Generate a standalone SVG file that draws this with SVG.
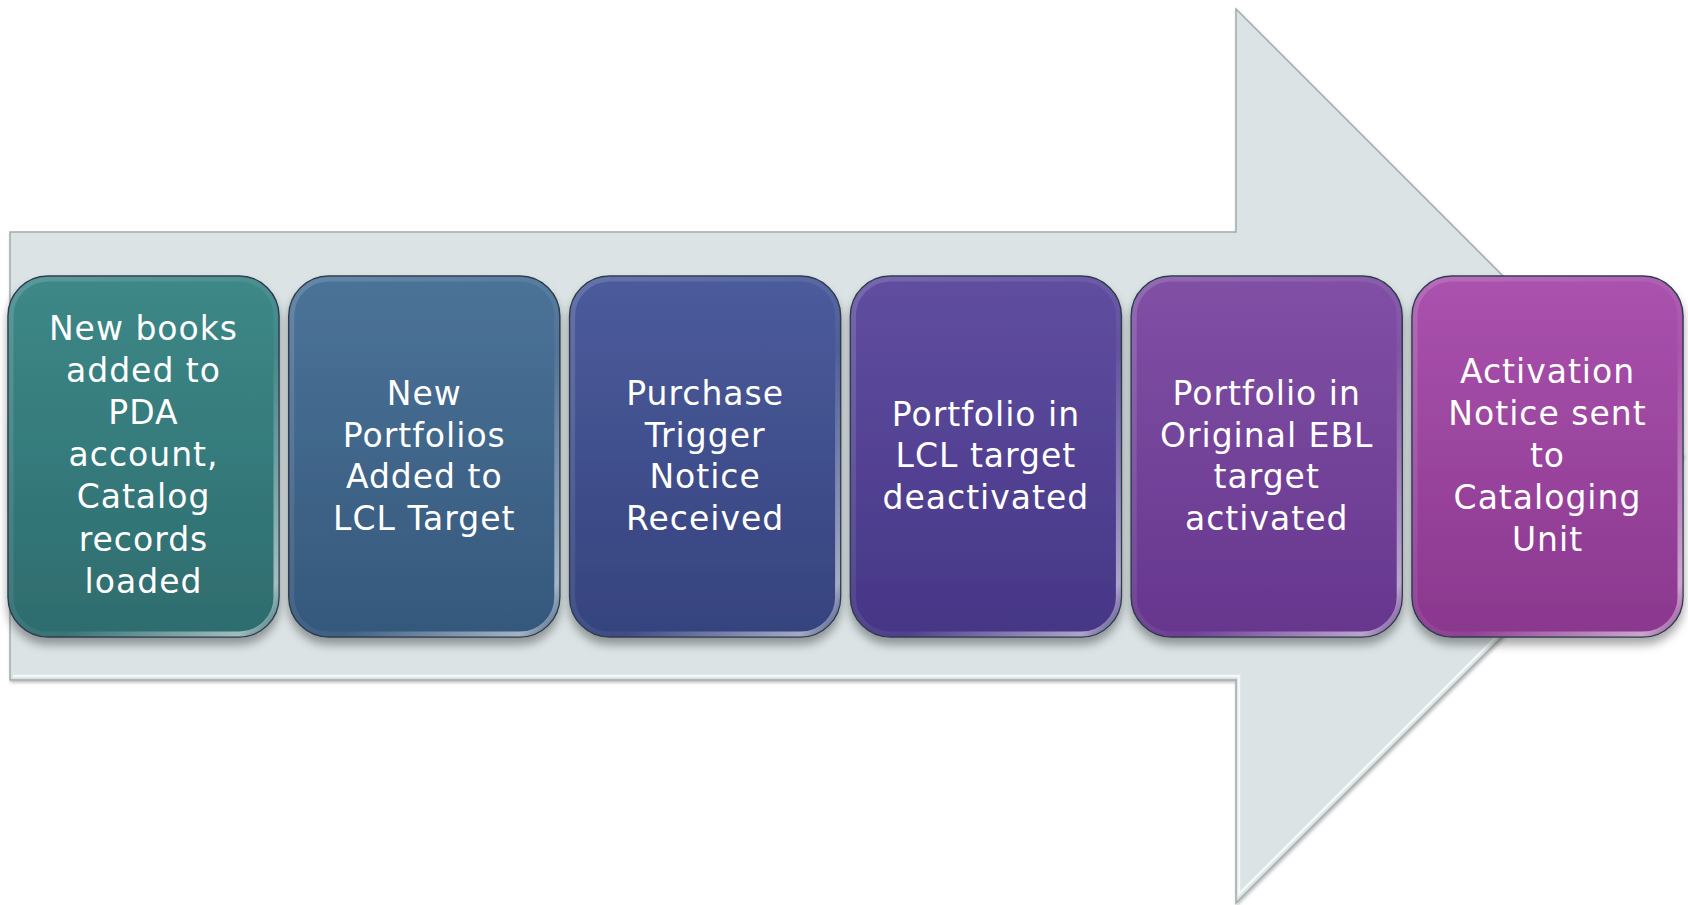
<svg xmlns="http://www.w3.org/2000/svg" width="1688" height="905" viewBox="0 0 1688 905">
<defs>
<style>
.lbl{font-family:"DejaVu Sans","Liberation Sans",sans-serif;font-size:33px;letter-spacing:1px;fill:#ffffff;text-anchor:middle}
.box{stroke:#2c3a4e;stroke-width:1.5;filter:url(#sh)}
.gloss{fill:none;stroke:url(#edge);stroke-width:5}
</style>
<filter id="sh" x="-10%" y="-10%" width="120%" height="125%">
<feDropShadow dx="0" dy="7" stdDeviation="5" flood-color="#000000" flood-opacity="0.35"/>
</filter>
<filter id="ash" x="-5%" y="-5%" width="110%" height="110%">
<feDropShadow dx="1" dy="2" stdDeviation="1.5" flood-color="#000000" flood-opacity="0.25"/>
</filter>
<linearGradient id="edge" x1="0" y1="0" x2="1" y2="1">
<stop offset="0" stop-color="#ffffff" stop-opacity="0.15"/>
<stop offset="0.6" stop-color="#ffffff" stop-opacity="0.05"/>
<stop offset="0.93" stop-color="#ffffff" stop-opacity="0.55"/>
<stop offset="1" stop-color="#ffffff" stop-opacity="0.1"/>
</linearGradient>
<linearGradient id="g1" x1="0" y1="0" x2="0" y2="1"><stop offset="0" stop-color="#3d8888"/><stop offset="1" stop-color="#2e6c6e"/></linearGradient>
<linearGradient id="g2" x1="0" y1="0" x2="0" y2="1"><stop offset="0" stop-color="#4b7398"/><stop offset="1" stop-color="#35587c"/></linearGradient>
<linearGradient id="g3" x1="0" y1="0" x2="0" y2="1"><stop offset="0" stop-color="#4c5b9c"/><stop offset="1" stop-color="#35437e"/></linearGradient>
<linearGradient id="g4" x1="0" y1="0" x2="0" y2="1"><stop offset="0" stop-color="#604ea0"/><stop offset="1" stop-color="#463686"/></linearGradient>
<linearGradient id="g5" x1="0" y1="0" x2="0" y2="1"><stop offset="0" stop-color="#8150a5"/><stop offset="1" stop-color="#66368e"/></linearGradient>
<linearGradient id="g6" x1="0" y1="0" x2="0" y2="1"><stop offset="0" stop-color="#aa52ae"/><stop offset="1" stop-color="#8a378e"/></linearGradient>
</defs>
<rect width="1688" height="905" fill="#ffffff"/>
<g id="arrow">
<polygon points="10,232 1236,232 1236,9 1683,456 1236,903 1236,680 10,680" fill="#dbe3e4" stroke="#a3aaac" stroke-width="1.5" filter="url(#ash)"/>
<polyline points="13,676 1239,676 1239,894 1676,457" fill="none" stroke="#f4f8f8" stroke-width="2.5"/>
</g>
<g id="connectors"></g>
<g id="node1">
<rect class="box" x="8" y="276" width="271" height="361" rx="40" fill="url(#g1)"/>
<rect class="gloss" x="11" y="279" width="265" height="355" rx="37"/>
<text class="lbl"><tspan x="143.5" y="340">New books</tspan><tspan x="143.5" y="382">added to</tspan><tspan x="143.5" y="424">PDA</tspan><tspan x="143.5" y="466">account,</tspan><tspan x="143.5" y="508">Catalog</tspan><tspan x="143.5" y="551">records</tspan><tspan x="143.5" y="593">loaded</tspan></text>
</g>
<g id="node2">
<rect class="box" x="288.8" y="276" width="271" height="361" rx="40" fill="url(#g2)"/>
<rect class="gloss" x="291.8" y="279" width="265" height="355" rx="37"/>
<text class="lbl"><tspan x="424.3" y="405">New</tspan><tspan x="424.3" y="447">Portfolios</tspan><tspan x="424.3" y="488">Added to</tspan><tspan x="424.3" y="530">LCL Target</tspan></text>
</g>
<g id="node3">
<rect class="box" x="569.6" y="276" width="271" height="361" rx="40" fill="url(#g3)"/>
<rect class="gloss" x="572.6" y="279" width="265" height="355" rx="37"/>
<text class="lbl"><tspan x="705.1" y="405">Purchase</tspan><tspan x="705.1" y="447">Trigger</tspan><tspan x="705.1" y="488">Notice</tspan><tspan x="705.1" y="530">Received</tspan></text>
</g>
<g id="node4">
<rect class="box" x="850.4" y="276" width="271" height="361" rx="40" fill="url(#g4)"/>
<rect class="gloss" x="853.4" y="279" width="265" height="355" rx="37"/>
<text class="lbl"><tspan x="985.9" y="426">Portfolio in</tspan><tspan x="985.9" y="467">LCL target</tspan><tspan x="985.9" y="509">deactivated</tspan></text>
</g>
<g id="node5">
<rect class="box" x="1131.2" y="276" width="271" height="361" rx="40" fill="url(#g5)"/>
<rect class="gloss" x="1134.2" y="279" width="265" height="355" rx="37"/>
<text class="lbl"><tspan x="1266.7" y="405">Portfolio in</tspan><tspan x="1266.7" y="447">Original EBL</tspan><tspan x="1266.7" y="488">target</tspan><tspan x="1266.7" y="530">activated</tspan></text>
</g>
<g id="node6">
<rect class="box" x="1412" y="276" width="271" height="361" rx="40" fill="url(#g6)"/>
<rect class="gloss" x="1415" y="279" width="265" height="355" rx="37"/>
<text class="lbl"><tspan x="1547.5" y="383">Activation</tspan><tspan x="1547.5" y="425">Notice sent</tspan><tspan x="1547.5" y="467">to</tspan><tspan x="1547.5" y="509">Cataloging</tspan><tspan x="1547.5" y="551">Unit</tspan></text>
</g>
</svg>
